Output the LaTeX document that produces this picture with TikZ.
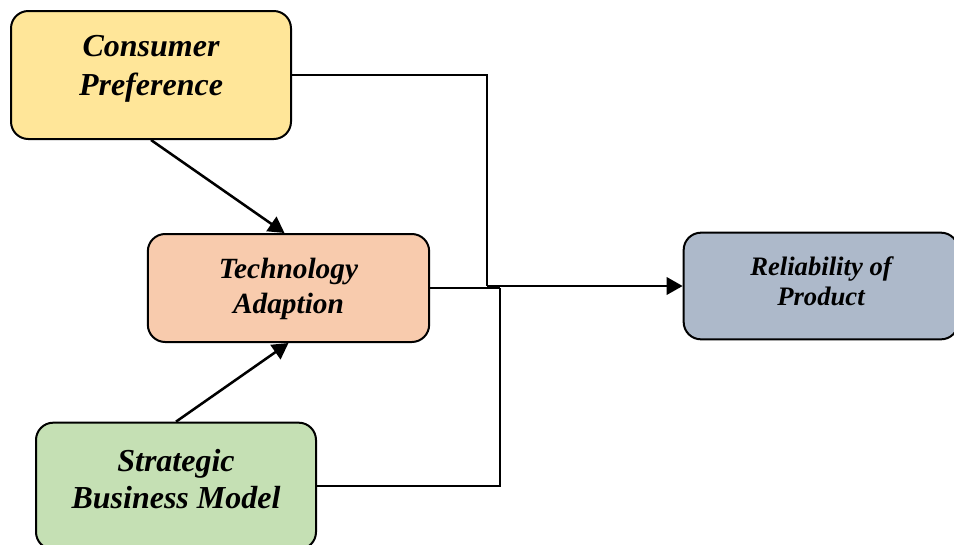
\documentclass[tikz,border=0pt]{standalone}
\usepackage{fontspec}
\setmainfont{Liberation Serif}
\usepackage{tikz}
\usetikzlibrary{arrows.meta, positioning}
\definecolor{PrefYellow}{RGB}{255,230,153}
\definecolor{TechOrange}{RGB}{248,203,173}
\definecolor{StratGreen}{RGB}{197,224,180}
\definecolor{ProdGrey}{RGB}{173,185,202}

\begin{document}
\begin{tikzpicture}[x=0.75pt, y=-0.75pt,
    box/.style={draw, line width=1.5pt, rounded corners=13pt, minimum width=210pt},
    lbl/.style={align=center, inner sep=0pt},
    link/.style={line width=1.9pt},
    arr/.style={link, -{Triangle[length=12pt, width=13pt]}}]
    \useasboundingbox (0,0) rectangle (954,544);

    % 四个方框
    \node[box, fill=PrefYellow, minimum height=96pt] (pref) at (151,75) {};
    \node[box, fill=TechOrange, minimum width=211pt, minimum height=81pt] (tech) at (288.5,288) {};
    \node[box, fill=StratGreen, minimum height=95pt] (strat) at (176,486) {};
    \node[box, fill=ProdGrey, minimum width=206pt, minimum height=80pt] (rel) at (821,286) {};

    % 文字
    \node[lbl, font=\fontsize{24}{29}\selectfont\bfseries\itshape] (preftext) at (151,69) {Consumer\\Preference};
    \node[lbl, font=\fontsize{22}{26}\selectfont\bfseries\itshape] (techtext) at (288.5,289) {Technology\\Adaption};
    \node[lbl, font=\fontsize{24}{27.5}\selectfont\bfseries\itshape] (strattext) at (176,479) {Strategic\\Business Model};
    \node[lbl, font=\fontsize{20}{22.5}\selectfont\bfseries\itshape] (reltext) at (821,281) {Reliability of\\Product};

    % 连线
    \coordinate (jA) at (487,286);
    \coordinate (jB) at (500,288);
    \draw[arr] (pref.south) -- ([xshift=-3pt]tech.north);
    \draw[arr] (strat.north) -- (tech.south);
    \draw[link] (pref.east) -| (jA);
    \draw[arr] (jA) -- (rel.west);
    \draw[link] (tech.east) -- (jB);
    \draw[link] (strat.east) -| (jB);
\end{tikzpicture}
\end{document}
